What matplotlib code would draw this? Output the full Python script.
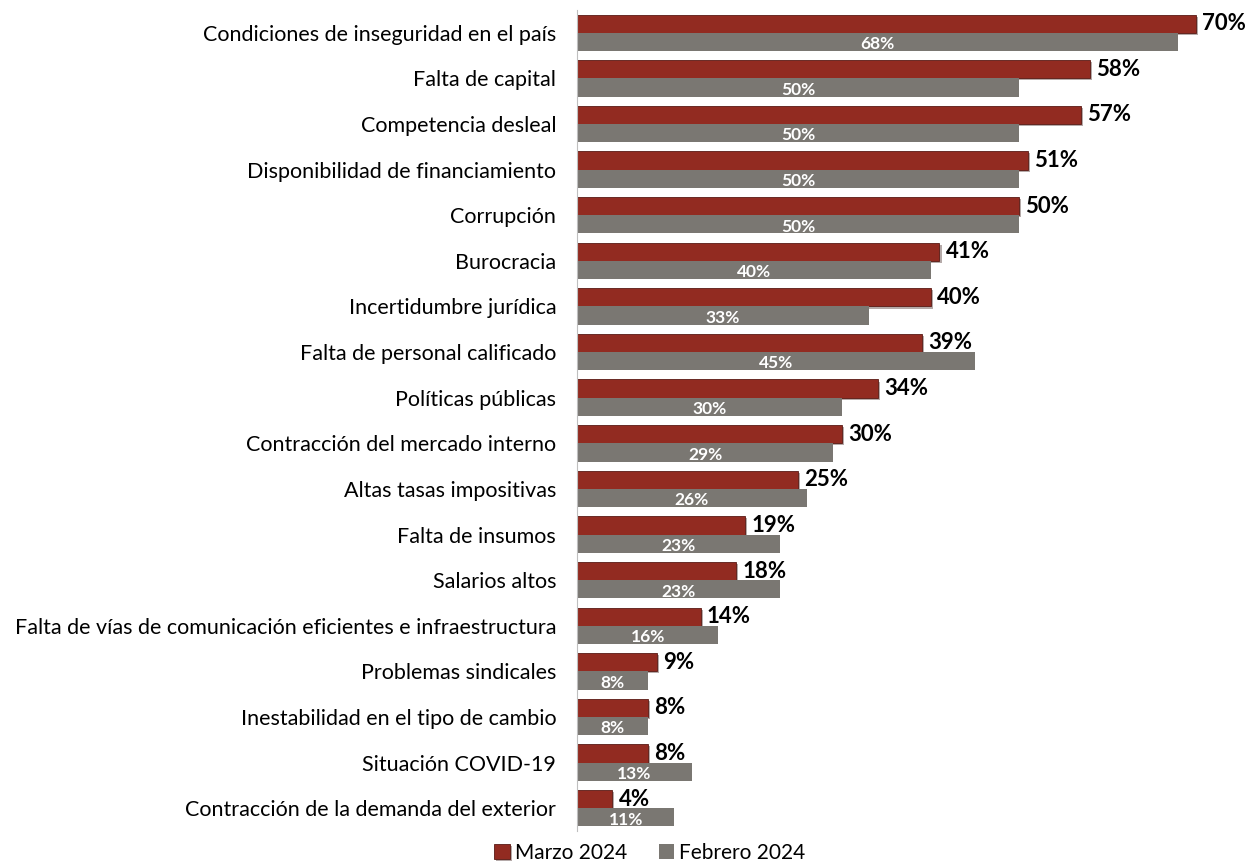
import matplotlib
matplotlib.use("Agg")
import matplotlib.pyplot as plt
import matplotlib.patheffects as pe
import numpy as np

plt.rcParams['font.family'] = ['Lato', 'DejaVu Sans']

categories = [
    "Condiciones de inseguridad en el país",
    "Falta de capital",
    "Competencia desleal",
    "Disponibilidad de financiamiento",
    "Corrupción",
    "Burocracia",
    "Incertidumbre jurídica",
    "Falta de personal calificado",
    "Políticas públicas",
    "Contracción del mercado interno",
    "Altas tasas impositivas",
    "Falta de insumos",
    "Salarios altos",
    "Falta de vías de comunicación eficientes e infraestructura",
    "Problemas sindicales",
    "Inestabilidad en el tipo de cambio",
    "Situación COVID-19",
    "Contracción de la demanda del exterior",
]
marzo = [70, 58, 57, 51, 50, 41, 40, 39, 34, 30, 25, 19, 18, 14, 9, 8, 8, 4]
febrero = [68, 50, 50, 50, 50, 40, 33, 45, 30, 29, 26, 23, 23, 16, 8, 8, 13, 11]
series_names = ["Marzo 2024", "Febrero 2024"]

red = "#922B21"
grey = "#7A7772"

W, H = 1246, 863
fig = plt.figure(figsize=(W / 100, H / 100), dpi=100)
ax = fig.add_axes([577 / W, 1 - 831 / H, (1240 - 577) / W, (831 - 10) / H])

y = np.arange(len(categories))
h = 0.40
b1 = ax.barh(y - h / 2, marzo, height=h, color=red, label=series_names[0],
             edgecolor="#5a1a14", linewidth=0.6)
b2 = ax.barh(y + h / 2, febrero, height=h, color=grey, label=series_names[1])
for r in b1:
    r.set_path_effects([pe.SimplePatchShadow(offset=(1.5, -1.5), alpha=0.35), pe.Normal()])

for yi, v in zip(y, marzo):
    ax.annotate(f"{v}%", (v, yi - h / 2), xytext=(4.5, 0), textcoords="offset points",
                ha="left", va="center", fontsize=16, fontweight="bold", color="black")
for yi, v in zip(y, febrero):
    ax.text(v / 2, yi + h / 2 + 0.05, f"{v}%", ha="center", va="center",
            fontsize=12.5, fontweight="bold", color="white")

ax.set_xlim(0, 75)
ax.set_ylim(len(categories) - 0.5, -0.5)
ax.set_yticks(y)
ax.set_yticklabels(categories, fontsize=15.5)
ax.tick_params(axis="y", length=0, pad=15)
ax.set_xticks([])
for s in ["top", "right", "bottom"]:
    ax.spines[s].set_visible(False)
ax.spines["left"].set_color("#bfbfbf")
ax.spines["left"].set_linewidth(0.8)

fig.legend(handles=[b1, b2], labels=series_names, loc="center",
           bbox_to_anchor=(650 / W, 1 - 853 / H), ncol=2, frameon=False,
           fontsize=15, handlelength=0.75, handleheight=0.75, handletextpad=0.25,
           columnspacing=1.5)

fig.savefig("out.png", dpi=100)
